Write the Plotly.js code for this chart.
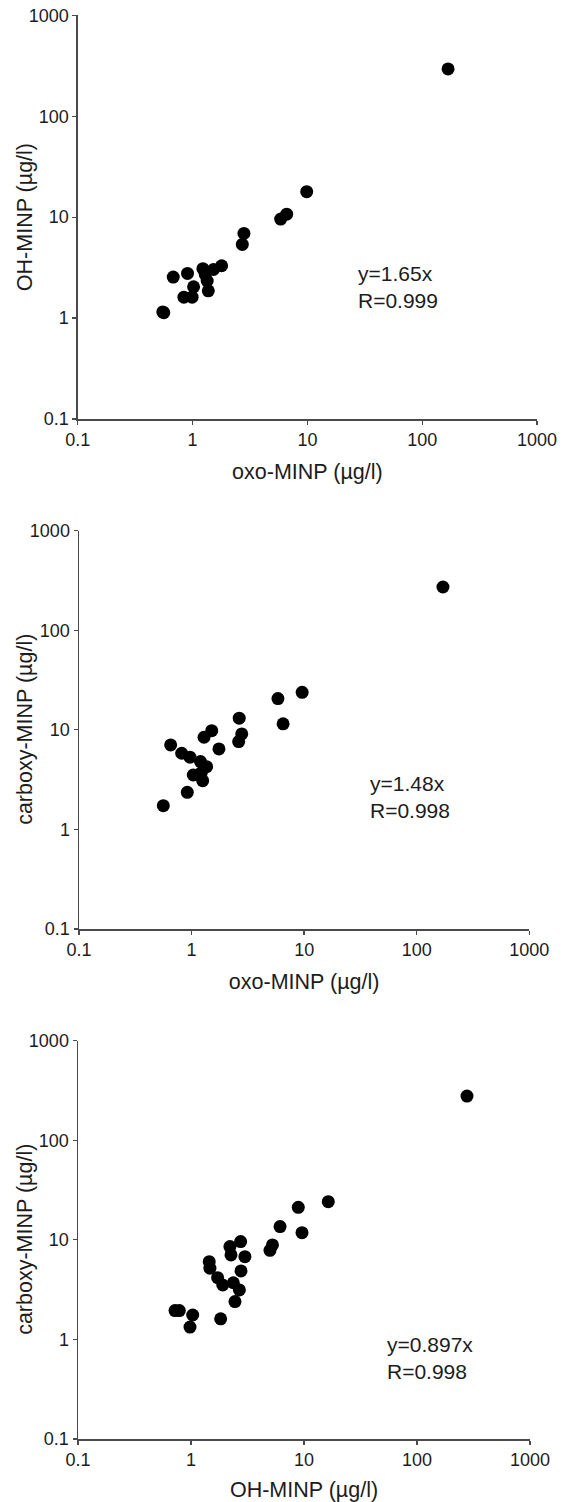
<!DOCTYPE html>
<html>
<head>
<meta charset="utf-8">
<script src="https://cdn.plot.ly/plotly-3.0.1.min.js"></script>
<style>
html,body{margin:0;padding:0;background:#fff;}
#chart{width:565px;height:1502px;}
</style>
</head>
<body>
<div id="chart"></div>
<script>
// Tick labels (shared by all axes)
const tickVals = [0.1, 1, 10, 100, 1000];
const tickText = ['0.1', '1', '10', '100', '1000'];

// Panel 1: oxo-MINP vs OH-MINP
const oxo1 = [168, 9.86, 6.6, 5.85, 2.8, 2.71, 1.79, 1.52, 1.23, 1.29, 1.34, 1.37, 1.02, 0.903, 0.678, 0.84, 0.99, 0.561, 0.55];
const oh1  = [294, 17.9, 10.7, 9.57, 6.9, 5.37, 3.3, 3.03, 3.09, 2.70, 2.33, 1.86, 2.04, 2.77, 2.55, 1.61, 1.61, 1.13, 1.15];

// Panel 2: oxo-MINP vs carboxy-MINP
const oxo2 = [171, 9.6, 5.85, 6.5, 2.65, 2.79, 2.62, 1.51, 1.29, 1.75, 0.652, 0.817, 0.968, 1.2, 1.36, 1.22, 1.035, 1.255, 0.916, 0.561];
const cx2  = [272, 23.8, 20.6, 11.5, 13.1, 9.1, 7.62, 9.8, 8.43, 6.43, 7.05, 5.82, 5.31, 4.8, 4.27, 3.71, 3.52, 3.09, 2.36, 1.73];

// Panel 3: OH-MINP vs carboxy-MINP
const oh3 = [277, 16.4, 8.9, 9.6, 6.14, 5.26, 5.0, 2.75, 2.21, 2.26, 3.0, 1.45, 1.47, 2.77, 1.72, 1.91, 2.37, 2.68, 2.45, 0.722, 0.788, 1.035, 1.83, 0.98];
const cx3 = [278, 24.2, 21.2, 11.8, 13.6, 8.9, 7.84, 9.6, 8.55, 7.05, 6.78, 6.04, 5.19, 4.88, 4.17, 3.52, 3.71, 3.14, 2.40, 1.95, 1.95, 1.76, 1.61, 1.33];

// Texts
const yTitle1 = 'OH-MINP (µg/l)';
const yTitle2 = 'carboxy-MINP (µg/l)';
const yTitle3 = 'carboxy-MINP (µg/l)';
const xTitle1 = 'oxo-MINP (µg/l)';
const xTitle2 = 'oxo-MINP (µg/l)';
const xTitle3 = 'OH-MINP (µg/l)';
const fitText1 = 'y=1.65x<br>R=0.999';
const fitText2 = 'y=1.48x<br>R=0.998';
const fitText3 = 'y=0.897x<br>R=0.998';

const W = 565, H = 1502;
const FONT = '"Liberation Sans", Arial, Helvetica, sans-serif';
const TXT = '#1c1c1c';

function px(x) { return x / W; }
function py(y) { return 1 - y / H; }

const marker = {color: '#000', size: 13, line: {width: 0}};

const traces = [
  {x: oxo1, y: oh1, type: 'scatter', mode: 'markers', marker, xaxis: 'x', yaxis: 'y', cliponaxis: false},
  {x: oxo2, y: cx2, type: 'scatter', mode: 'markers', marker, xaxis: 'x2', yaxis: 'y2', cliponaxis: false},
  {x: oh3, y: cx3, type: 'scatter', mode: 'markers', marker, xaxis: 'x3', yaxis: 'y3', cliponaxis: false}
];

function xAxis(d0, d1, anchor, title) {
  return {
    type: 'log', range: [-1, 3], domain: [px(d0), px(d1)], anchor,
    showline: true, linecolor: '#4a4a4a', linewidth: 1.5, mirror: false,
    ticks: 'outside', ticklen: 4, tickwidth: 1.3, tickcolor: '#4a4a4a',
    tickvals: tickVals, ticktext: tickText,
    showgrid: false, zeroline: false, automargin: false,
    tickfont: {family: FONT, size: 18, color: TXT},
    title: {text: title, font: {family: FONT, size: 21.5, color: TXT}, standoff: 15}
  };
}
function yAxis(top, bottom, anchor) {
  return {
    type: 'log', range: [-1, 3], domain: [py(bottom), py(top)], anchor,
    showline: true, linecolor: '#4a4a4a', linewidth: 1.5, mirror: false,
    ticks: 'outside', ticklen: 4, tickwidth: 1.3, tickcolor: '#4a4a4a',
    tickvals: tickVals, ticktext: tickText,
    showgrid: false, zeroline: false, automargin: false,
    tickfont: {family: FONT, size: 18, color: TXT}
  };
}

function yTitle(text, top, bottom) {
  return {text, xref: 'paper', yref: 'paper', x: px(25), y: py((top + bottom) / 2),
    xanchor: 'center', yanchor: 'middle', textangle: -90, showarrow: false,
    font: {family: FONT, size: 21.5, color: TXT}};
}
function fitNote(text, x, y) {
  return {text, xref: 'paper', yref: 'paper', x: px(x), y: py(y), xanchor: 'left', yanchor: 'middle',
    align: 'left', showarrow: false, font: {family: FONT, size: 21, color: TXT}};
}

const layout = {
  width: W, height: H,
  margin: {l: 0, r: 0, t: 0, b: 0, pad: 0},
  paper_bgcolor: '#fff', plot_bgcolor: '#fff',
  showlegend: false,
  font: {family: FONT, color: TXT},
  xaxis:  xAxis(77.8, 537, 'y',  xTitle1),
  yaxis:  yAxis(15.3, 419, 'x'),
  xaxis2: xAxis(79, 529.3, 'y2', xTitle2),
  yaxis2: yAxis(530.7, 929, 'x2'),
  xaxis3: xAxis(78, 530, 'y3', xTitle3),
  yaxis3: yAxis(1040.7, 1439, 'x3'),
  annotations: [
    yTitle(yTitle1, 15.3, 419),
    yTitle(yTitle2, 530.7, 929),
    yTitle(yTitle3, 1040.7, 1439),
    fitNote(fitText1, 356, 287.5),
    fitNote(fitText2, 368, 797),
    fitNote(fitText3, 385, 1358)
  ]
};

Plotly.newPlot('chart', traces, layout, {staticPlot: true, displayModeBar: false});
</script>
</body>
</html>
